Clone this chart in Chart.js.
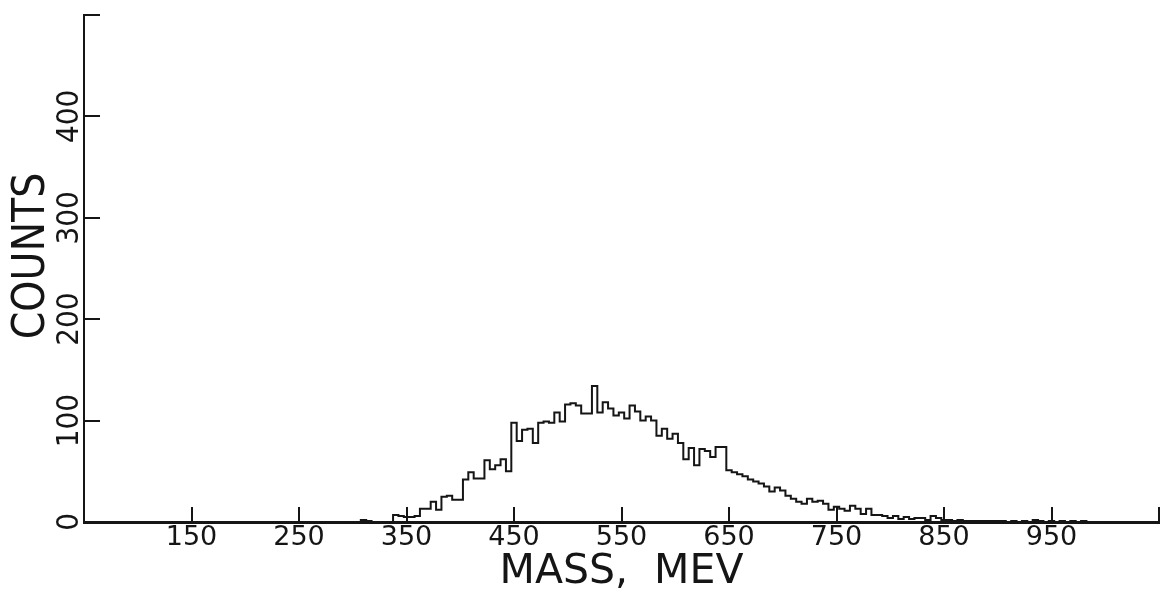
<!DOCTYPE html>
<html>
<head>
<meta charset="utf-8">
<script src="https://cdn.jsdelivr.net/npm/chart.js@4.4.0/dist/chart.umd.min.js"></script>
<style>
  html, body { margin: 0; padding: 0; background: #fff; }
  #wrap { width: 1160px; height: 595px; position: relative; }
</style>
</head>
<body>
<div id="wrap"><canvas id="myChart"></canvas></div>
<script>
// histogram: 5 MeV bins, first bin centred on 300 MeV
const binLow = 297.5;
const binWidth = 5;
const counts = [
    0, 0, 2, 1, 0, 0, 0, 0, 7, 6,              // 300-345
    5, 5, 6, 13, 13, 20, 12, 25, 26, 22,       // 350-395
    22, 42, 49, 43, 43, 61, 52, 56, 62, 50,    // 400-445
    98, 80, 91, 92, 78, 98, 99, 98, 108, 99,   // 450-495
    116, 117, 115, 107, 107, 134, 108, 118, 112, 105, // 500-545
    108, 102, 115, 109, 100, 104, 100, 85, 92, 82,    // 550-595
    87, 78, 62, 73, 56, 72, 70, 64, 74, 74,    // 600-645
    51, 49, 47, 45, 42, 40, 38, 35, 30, 34,    // 650-695
    31, 26, 23, 20, 18, 23, 20, 21, 18, 12,    // 700-745
    15, 13, 11, 16, 13, 8, 13, 7, 7, 6,        // 750-795
    4, 6, 3, 5, 3, 4, 4, 2, 6, 4,              // 800-845
    2, 2, 1, 2, 1, 1, 1, 1, 1, 1,              // 850-895
    1, 1, 0, 1, 0, 1, 0, 2, 1, 0,              // 900-945
    1, 0, 1, 0, 1, 0, 1, 0, 0, 0,              // 950-995
    0                                          // 1000
];

const xTickValues = [150, 250, 350, 450, 550, 650, 750, 850, 950, 1050];
const xTickLabels = ['150', '250', '350', '450', '550', '650', '750', '850', '950', ''];
const yTickValues = [0, 100, 200, 300, 400, 500];
const yTickLabels = ['0', '100', '200', '300', '400', ''];

const ink = '#151515';

const points = counts.map((c, i) => ({ x: binLow + i * binWidth, y: c }));
points.push({ x: binLow + counts.length * binWidth, y: counts[counts.length - 1] });

// tick marks point inward, like the plotter drawing
const innerTicks = {
    id: 'innerTicks',
    afterDatasetsDraw(chart) {
        const { ctx, chartArea, scales: { x, y } } = chart;
        ctx.save();
        ctx.strokeStyle = ink;
        ctx.lineWidth = 2;
        x.ticks.forEach(t => {
            const px = Math.round(x.getPixelForValue(t.value));
            ctx.beginPath();
            ctx.moveTo(px, chartArea.bottom);
            ctx.lineTo(px, chartArea.bottom - 15);
            ctx.stroke();
        });
        y.ticks.forEach(t => {
            if (t.value === 0) return;
            const py = Math.round(y.getPixelForValue(t.value));
            ctx.beginPath();
            ctx.moveTo(chartArea.left, py);
            ctx.lineTo(chartArea.left + 16, py);
            ctx.stroke();
        });
        ctx.restore();
    }
};

const ctx = document.getElementById('myChart').getContext('2d');

const myChart = new Chart(ctx, {
    type: 'line',
    data: {
        datasets: [{
            label: 'Counts',
            data: points,
            stepped: true,
            borderColor: ink,
            borderWidth: 2,
            pointRadius: 0,
            fill: false
        }]
    },
    options: {
        responsive: true,
        maintainAspectRatio: false,
        animation: false,
        layout: { padding: { top: 15, right: 1, left: 0, bottom: 0 } },
        plugins: {
            legend: { display: false },
            tooltip: { enabled: false }
        },
        scales: {
            x: {
                type: 'linear',
                min: 50,
                max: 1050,
                afterBuildTicks: scale => { scale.ticks = xTickValues.map(v => ({ value: v })); },
                afterFit: scale => { scale.height = 73; },
                grid: { display: false, drawTicks: false },
                border: { display: true, color: ink, width: 3 },
                ticks: {
                    autoSkip: false,
                    maxRotation: 0,
                    minRotation: 0,
                    padding: 0,
                    color: ink,
                    font: { family: 'DejaVu Sans', size: 27 },
                    callback: v => xTickLabels[xTickValues.indexOf(v)] ?? ''
                },
                title: {
                    display: true,
                    text: 'MASS,  MEV',
                    color: ink,
                    padding: { top: 0, bottom: 0 },
                    font: { family: 'DejaVu Sans', size: 41, lineHeight: 1.1 }
                }
            },
            y: {
                min: 0,
                max: 500,
                afterBuildTicks: scale => { scale.ticks = yTickValues.map(v => ({ value: v })); },
                afterFit: scale => { scale.width = 84; },
                grid: { display: false, drawTicks: false },
                border: { display: true, color: ink, width: 2 },
                ticks: {
                    autoSkip: false,
                    minRotation: 90,
                    maxRotation: 90,
                    crossAlign: 'center',
                    padding: -13,
                    color: ink,
                    font: { family: "'Liberation Sans Narrow', 'DejaVu Sans Condensed', 'Liberation Sans'", size: 31 },
                    callback: v => yTickLabels[yTickValues.indexOf(v)] ?? ''
                },
                title: {
                    display: true,
                    text: '  COUNTS',
                    color: ink,
                    padding: { top: 11, bottom: 0 },
                    font: { family: "'Liberation Sans Narrow', 'DejaVu Sans Condensed', 'Liberation Sans'", size: 44, lineHeight: 1.0 }
                }
            }
        }
    },
    plugins: [innerTicks]
});
</script>
</body>
</html>
